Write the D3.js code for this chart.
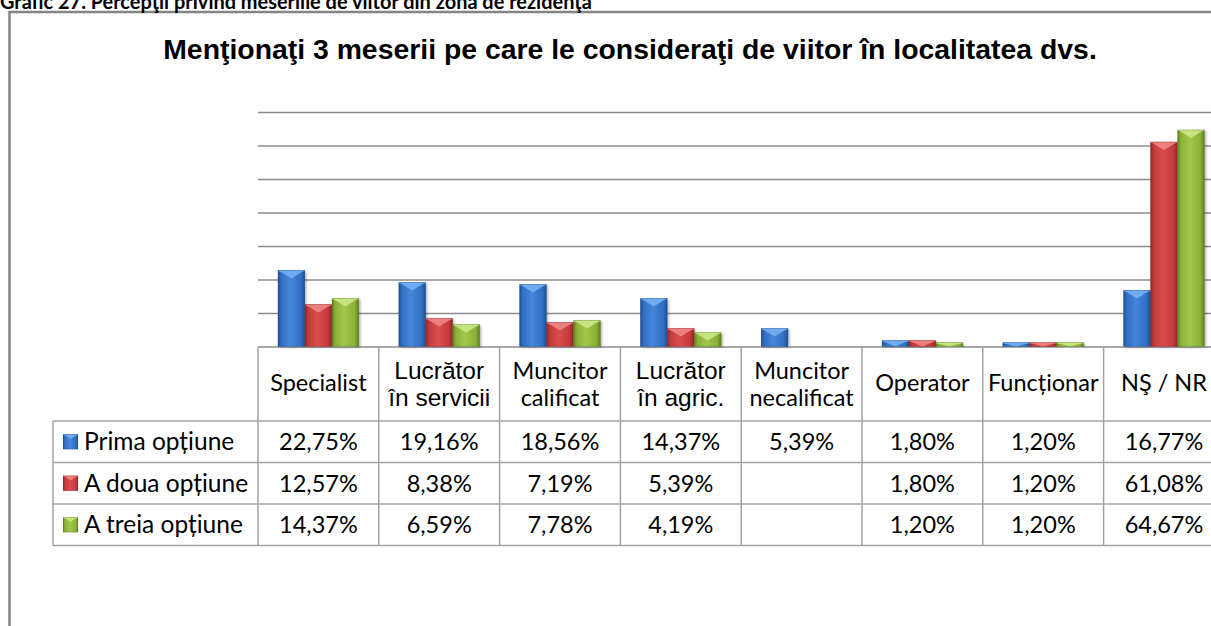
<!DOCTYPE html>
<html>
<head>
<meta charset="utf-8">
<script src="https://cdn.jsdelivr.net/npm/d3@7"></script>
<style>
  html, body { margin: 0; padding: 0; background: #fff; overflow: hidden; }
  svg { display: block; }
</style>
</head>
<body>
<svg id="chart" width="1211" height="626"></svg>
<script>
// ---- data -------------------------------------------------------------
const heading = "Grafic 27. Percepţii privind meseriile de viitor din zona de rezidenţă";
const title = "Menţionaţi 3 meserii pe care le consideraţi de viitor în localitatea dvs.";
const categories = ["Specialist", "Lucrător în servicii", "Muncitor calificat", "Lucrător în agric.",
                    "Muncitor necalificat", "Operator", "Funcționar", "NŞ / NR"];
const categoryLines = [["Specialist"], ["Lucrător", "în servicii"], ["Muncitor", "calificat"],
                       ["Lucrător", "în agric."], ["Muncitor", "necalificat"], ["Operator"],
                       ["Funcționar"], ["NŞ / NR"]];
const seriesNames = ["Prima opțiune", "A doua opțiune", "A treia opțiune"];
const primaOptiune = [22.75, 19.16, 18.56, 14.37, 5.39, 1.80, 1.20, 16.77];
const aDouaOptiune = [12.57, 8.38, 7.19, 5.39, null, 1.80, 1.20, 61.08];
const aTreiaOptiune = [14.37, 6.59, 7.78, 4.19, null, 1.20, 1.20, 64.67];
const yTicks = [0, 10, 20, 30, 40, 50, 60, 70];

const seriesValues = [primaOptiune, aDouaOptiune, aTreiaOptiune];

// ---- styling ------------------------------------------------------------
const palette = [
  { dark: "#1f4f8f", mid: "#306fc3", light: "#4587da", cap: "#79b2f3" },
  { dark: "#8c2727", mid: "#c33a3a", light: "#db4c4c", cap: "#f08888" },
  { dark: "#5c7d1f", mid: "#8ab038", light: "#a1c849", cap: "#cde98a" }
];
const calibriLike = "Lato, 'Open Sans', sans-serif";
const arialLike = "'Liberation Sans', Arial, sans-serif";
const arialHeaders = new Set(["Lucrător în servicii", "Lucrător în agric."]);

const svg = d3.select("#chart");
const W = 1211, H = 626;

// ---- layout -------------------------------------------------------------
const plotLeft = 258, colW = 120.8;
const plotRight = plotLeft + colW * categories.length;
const y0 = 346.5, yTop = 112;
const rowTops = [421, 462.5, 504, 545.5];
const tableLeft = 53;

const x = d3.scaleBand().domain(categories).range([plotLeft, plotRight]).padding(0);
const xs = d3.scaleBand().domain(seriesNames).range([0, x.bandwidth()])
  .paddingInner(0).paddingOuter(0.737);
const y = d3.scaleLinear().domain([0, 70]).range([y0, yTop]);
const fmt = d3.formatLocale({ decimal: ",", thousands: ".", grouping: [3], currency: ["", ""] }).format(".2f");

// ---- defs: bar gradients + shadow ---------------------------------------
const defs = svg.append("defs");
palette.forEach((p, i) => {
  const g = defs.append("linearGradient").attr("id", "barGrad" + i)
    .attr("x1", "0").attr("x2", "1").attr("y1", "0").attr("y2", "0");
  g.append("stop").attr("offset", "0").attr("stop-color", p.dark);
  g.append("stop").attr("offset", "0.12").attr("stop-color", p.mid);
  g.append("stop").attr("offset", "0.45").attr("stop-color", p.light);
  g.append("stop").attr("offset", "0.85").attr("stop-color", p.mid);
  g.append("stop").attr("offset", "1").attr("stop-color", p.dark);
});
const sh = defs.append("filter").attr("id", "barShadow")
  .attr("x", "-20%").attr("y", "-5%").attr("width", "150%").attr("height", "115%");
sh.append("feDropShadow").attr("dx", 1.5).attr("dy", 1).attr("stdDeviation", 1.2)
  .attr("flood-color", "#000").attr("flood-opacity", 0.3);

// ---- outer frame + heading ---------------------------------------------
svg.append("rect").attr("x", 9.5).attr("y", 12).attr("width", W + 20).attr("height", H + 20)
  .attr("fill", "none").attr("stroke", "#858585").attr("stroke-width", 2.5);

// the caption sits just above the frame; its upper part runs off the page
const headingText = svg.append("text").attr("x", 0).attr("y", 8.5)
  .attr("font-family", calibriLike).attr("font-weight", 700).attr("font-size", 20)
  .attr("fill", "#000").text(heading);
fitWidth(headingText, 592);

const titleText = svg.append("text").attr("x", 630).attr("y", 59).attr("text-anchor", "middle")
  .attr("font-family", arialLike).attr("font-weight", 700).attr("font-size", 19)
  .attr("fill", "#000").text(title);
fitWidth(titleText, 934);

function fitWidth(sel, target) {
  const len = sel.node().getComputedTextLength();
  const fs = +sel.attr("font-size");
  sel.attr("font-size", fs * target / len);
}

// ---- gridlines ----------------------------------------------------------
const grid = svg.append("g").attr("transform", `translate(${plotLeft},0)`)
  .call(d3.axisLeft(y).tickValues(yTicks).tickSize(-(plotRight - plotLeft)).tickFormat(""));
grid.select(".domain").remove();
grid.selectAll(".tick line").attr("stroke", "#8c8c8c").attr("stroke-width", 1.6);

// ---- bars ---------------------------------------------------------------
const barData = [];
categories.forEach((c, ci) => {
  seriesNames.forEach((s, si) => {
    const v = seriesValues[si][ci];
    if (v != null) barData.push({ c, s, si, v });
  });
});

const bars = svg.append("g").selectAll("g.bar").data(barData).join("g").attr("class", "bar");
bars.each(function (d) {
  const g = d3.select(this);
  const bx = x(d.c) + xs(d.s), bw = xs.bandwidth();
  const by = y(d.v), bh = y0 - by;
  drawBevelBox(g, bx, by, bw, bh, d.si, true);
});

function drawBevelBox(g, bx, by, bw, bh, si, shadow) {
  const p = palette[si];
  g.append("rect").attr("x", bx).attr("y", by).attr("width", bw).attr("height", bh)
    .attr("fill", `url(#barGrad${si})`)
    .attr("filter", shadow ? "url(#barShadow)" : null);
  const capH = Math.min(bw * 0.3, bh);
  g.append("path")
    .attr("d", `M${bx + 1},${by + 0.5} L${bx + bw - 1},${by + 0.5} L${bx + bw / 2},${by + capH} Z`)
    .attr("fill", p.cap).attr("opacity", 0.85);
  g.append("line").attr("x1", bx + 0.5).attr("x2", bx + bw - 0.5)
    .attr("y1", by + 0.5).attr("y2", by + 0.5)
    .attr("stroke", p.cap).attr("stroke-width", 1);
  g.append("rect").attr("x", bx + 0.25).attr("y", by + 0.25)
    .attr("width", Math.max(bw - 0.5, 0)).attr("height", Math.max(bh - 0.5, 0))
    .attr("fill", "none").attr("stroke", p.dark).attr("stroke-opacity", 0.55).attr("stroke-width", 0.6);
}

// ---- data table ---------------------------------------------------------
const table = svg.append("g");
const lineStyle = sel => sel.attr("stroke", "#a3a3a3").attr("stroke-width", 1.5);

// horizontal rules below the header and between rows
rowTops.forEach(ry => {
  table.append("line").attr("x1", tableLeft).attr("x2", plotRight).attr("y1", ry).attr("y2", ry).call(lineStyle);
});
// column rules
const colEdges = [plotLeft].concat(categories.map(c => x(c) + x.bandwidth()));
colEdges.forEach(cx => {
  table.append("line").attr("x1", cx).attr("x2", cx).attr("y1", y0).attr("y2", rowTops[3]).call(lineStyle);
});
table.append("line").attr("x1", tableLeft).attr("x2", tableLeft)
  .attr("y1", rowTops[0]).attr("y2", rowTops[3]).call(lineStyle);

// category headers
categories.forEach((c, ci) => {
  const lines = categoryLines[ci];
  const cx = x(c) + x.bandwidth() / 2;
  const isArial = arialHeaders.has(c);
  const t = table.append("text").attr("text-anchor", "middle").attr("fill", "#000")
    .attr("font-family", isArial ? arialLike : calibriLike)
    .attr("font-size", isArial ? 24.5 : 23.5);
  if (lines.length === 1) {
    t.append("tspan").attr("x", cx).attr("y", 391).text(lines[0]);
  } else {
    t.append("tspan").attr("x", cx).attr("y", 379).text(lines[0]);
    t.append("tspan").attr("x", cx).attr("y", 406).text(lines[1]);
  }
});

// series rows: legend key, name and values
seriesNames.forEach((s, si) => {
  const top = rowTops[si], bottom = rowTops[si + 1];
  const mid = (top + bottom) / 2;
  const key = table.append("g");
  drawBevelBox(key, 63, mid - 7.5, 15, 15, si, false);
  table.append("text").attr("x", 84).attr("y", mid + 8.5)
    .attr("font-family", calibriLike).attr("font-size", 24.5).attr("fill", "#000").text(s);
  categories.forEach((c, ci) => {
    const v = seriesValues[si][ci];
    if (v == null) return;
    table.append("text").attr("x", x(c) + x.bandwidth() / 2).attr("y", mid + 8.5)
      .attr("text-anchor", "middle").attr("font-family", calibriLike).attr("font-size", 23.5)
      .attr("fill", "#000").text(fmt(v) + "%");
  });
});
</script>
</body>
</html>
